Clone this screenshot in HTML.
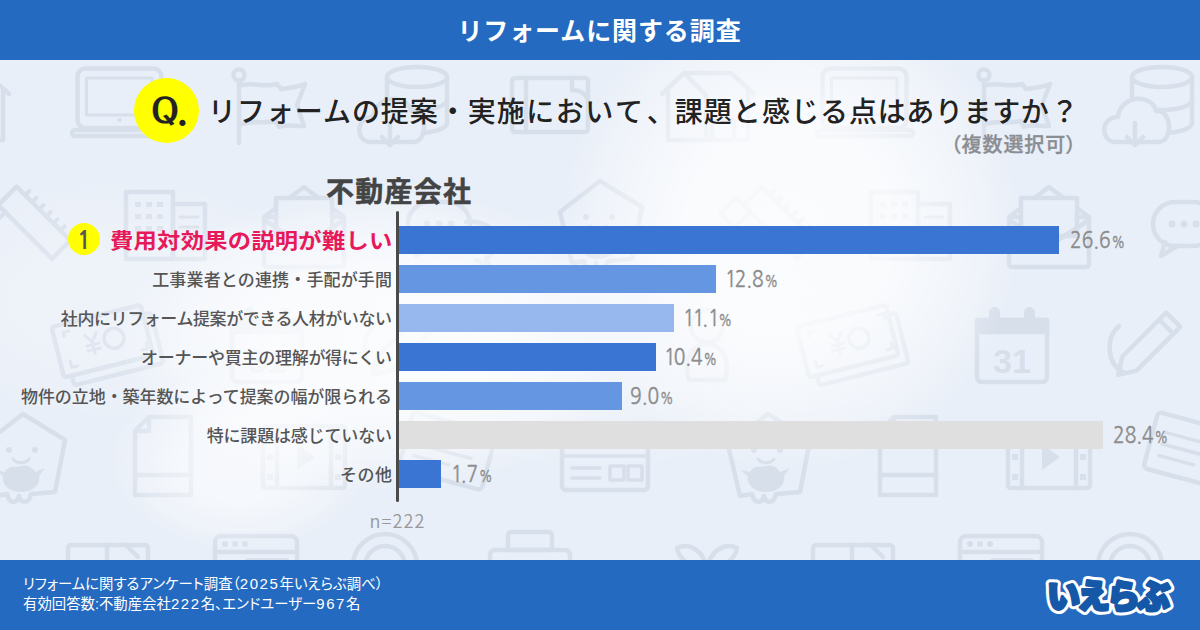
<!DOCTYPE html>
<html lang="ja">
<head>
<meta charset="utf-8">
<title>リフォームに関する調査</title>
<style>
*{margin:0;padding:0;box-sizing:border-box;}
html,body{width:1200px;height:630px;overflow:hidden;}
body{position:relative;font-family:"Liberation Sans","Noto Sans CJK JP",sans-serif;color:#222;background:#e9eff8;}
.abs{position:absolute;}
#bgicons{position:absolute;left:0;top:0;}
#glow{left:0;top:0;width:1200px;height:630px;
background:radial-gradient(ellipse 230px 240px at 790px 230px,rgba(255,255,255,0.80) 0%,rgba(255,255,255,0.75) 45%,rgba(255,255,255,0.35) 80%,rgba(255,255,255,0) 100%),
radial-gradient(ellipse 260px 150px at 380px 340px,rgba(255,255,255,0.80) 0%,rgba(255,255,255,0.75) 45%,rgba(255,255,255,0.35) 80%,rgba(255,255,255,0) 100%),
radial-gradient(ellipse 250px 130px at 600px 340px,rgba(255,255,255,0.30) 0%,rgba(255,255,255,0.28) 45%,rgba(255,255,255,0.13) 80%,rgba(255,255,255,0) 100%),
radial-gradient(ellipse 130px 90px at 240px 460px,rgba(255,255,255,0.60) 0%,rgba(255,255,255,0.56) 45%,rgba(255,255,255,0.26) 80%,rgba(255,255,255,0) 100%),
radial-gradient(ellipse 220px 120px at 120px 300px,rgba(255,255,255,0.25) 0%,rgba(255,255,255,0.23) 45%,rgba(255,255,255,0.11) 80%,rgba(255,255,255,0) 100%);}
#hdr{left:0;top:0;width:1200px;height:60px;background:#246ac0;color:#fff;font-family:"Noto Sans CJK JP",sans-serif;font-weight:700;font-size:25px;line-height:58px;text-align:center;letter-spacing:0.9px;text-indent:-1px;}
#qc{left:134px;top:78px;width:65px;height:65px;border-radius:50%;background:#ffff00;}
#qt{left:150px;top:88.5px;font-family:"IPAGothic",sans-serif;font-weight:400;font-size:37px;line-height:44px;color:#222;white-space:nowrap;}
#qq1{display:inline-block;transform:scaleX(1.62);transform-origin:0 0;-webkit-text-stroke:0.1px #222;}
#qdot{position:absolute;left:27px;top:0;font-family:"NanumGothic",sans-serif;font-weight:800;font-size:34px;}
#qq{left:208px;letter-spacing:0.95px;top:90px;font-family:"Noto Sans CJK JP",sans-serif;font-weight:500;font-size:28px;line-height:40px;color:#222;white-space:nowrap;}
#multi{right:123px;top:130px;font-family:"Noto Sans CJK JP",sans-serif;font-weight:500;font-size:20px;letter-spacing:0.9px;line-height:28px;color:#8a8d92;font-feature-settings:"palt";-webkit-text-stroke:0.3px #8a8d92;white-space:nowrap;}
#cat{left:326px;letter-spacing:1.25px;-webkit-text-stroke:0.5px #444;top:172px;font-family:"Noto Sans CJK JP",sans-serif;font-weight:700;font-size:28px;line-height:36px;color:#444;white-space:nowrap;}
#axis{left:396px;top:211px;width:3px;height:291px;background:#4a4a4a;border-radius:2px;}
.bar{position:absolute;left:399px;height:28px;}
.lbl{position:absolute;right:808px;font-family:"Noto Sans CJK JP",sans-serif;font-weight:500;font-size:17px;line-height:28px;color:#555;white-space:nowrap;text-align:right;}
.val{position:absolute;font-family:"NanumGothic","Noto Sans CJK JP",sans-serif;font-weight:400;font-size:24px;line-height:28px;color:#8c8c8c;white-space:nowrap;transform:scaleX(0.8);transform-origin:0 50%;margin-top:-1.25px;-webkit-text-stroke:0.45px #8c8c8c;}
.val small{font-size:15.5px;margin-left:1px;}
.val .o{letter-spacing:-2.5px;}
#rank{left:68px;top:223px;width:32px;height:32px;border-radius:50%;background:#ffff00;}
#rankn{left:68px;top:225px;width:32px;height:32px;color:#555;font-family:"NanumGothic",sans-serif;font-weight:700;font-size:24px;line-height:32px;text-align:center;}
#first{left:110px;top:222.5px;letter-spacing:0.25px;transform:scaleY(0.9);transform-origin:50% 60%;font-family:"Noto Sans CJK JP",sans-serif;font-weight:700;font-size:23.3px;line-height:32px;color:#e8195a;white-space:nowrap;}
#n{left:369.5px;top:508px;letter-spacing:1.1px;font-family:"Noto Sans CJK JP",sans-serif;font-weight:350;font-size:18px;line-height:24px;color:#999;}
#ftr{left:0;top:560px;width:1200px;height:70px;background:#246ac0;}
#ftxt{left:23px;top:574px;font-family:"Liberation Sans","Noto Sans CJK JP",sans-serif;font-feature-settings:"palt";font-weight:400;font-size:14.4px;line-height:20px;color:#fff;white-space:nowrap;}
#logo{position:absolute;left:1040px;top:567px;}
#ftxt .d{font-size:15px;letter-spacing:1.6px;}
</style>
</head>
<body>
<svg id="bgicons" width="1200" height="630" viewBox="0 0 1200 630">
<g fill="none" stroke="#d7dfeb" stroke-width="4.5" stroke-linecap="round" stroke-linejoin="round">
<g transform="translate(-83,73)"><path d="M0,21 L22,0 H69 L92,21 M6,17 V67 H86 V17 M22,0 L44,22 V67 M50,67 V47 H72 V67"/></g>
<g transform="translate(662,73)"><path d="M0,21 L22,0 H69 L92,21 M6,17 V67 H86 V17 M22,0 L44,22 V67 M50,67 V47 H72 V67"/></g>
<g transform="translate(70,66)"><rect x="7.5" y="2.5" width="84" height="59.5" rx="8"/><rect x="16.5" y="12" width="65.5" height="37" stroke-width="3"/><circle cx="49.5" cy="54" r="2.2" fill="#d7dfeb" stroke="none"/><rect x="2" y="64" width="96" height="6" rx="3"/></g>
<g transform="translate(815,66)"><rect x="7.5" y="2.5" width="84" height="59.5" rx="8"/><rect x="16.5" y="12" width="65.5" height="37" stroke-width="3"/><circle cx="49.5" cy="54" r="2.2" fill="#d7dfeb" stroke="none"/><rect x="2" y="64" width="96" height="6" rx="3"/></g>
<g transform="translate(239,75)"><circle cx="0" cy="0" r="5.5"/><path d="M0,6 V68"/><path d="M3,10 C15,7 25,13 38,9 L42,14 C52,12 58,13 66,9 L58,30 L65,51 C55,51 48,49 40,52 L37,46 C25,49 15,45 3,49"/></g>
<g transform="translate(984,75)"><circle cx="0" cy="0" r="5.5"/><path d="M0,6 V68"/><path d="M3,10 C15,7 25,13 38,9 L42,14 C52,12 58,13 66,9 L58,30 L65,51 C55,51 48,49 40,52 L37,46 C25,49 15,45 3,49"/></g>
<g transform="translate(385,65)"><path d="M2,12 V58 A30,10 0 0 0 62,58 V12"/><ellipse cx="32" cy="12" rx="30" ry="10"/><path d="M2,35 A30,10 0 0 0 62,35"/><path d="M-14,77 C-30,77 -30,52 -12,52 C-10,30 22,28 26,46 C42,44 44,77 28,77 Z" fill="#e9eff8"/><path d="M5,58 V80 M-3,72 L5,80 L13,72"/></g>
<g transform="translate(1130,65)"><path d="M2,12 V58 A30,10 0 0 0 62,58 V12"/><ellipse cx="32" cy="12" rx="30" ry="10"/><path d="M2,35 A30,10 0 0 0 62,35"/><path d="M-14,77 C-30,77 -30,52 -12,52 C-10,30 22,28 26,46 C42,44 44,77 28,77 Z" fill="#e9eff8"/><path d="M5,58 V80 M-3,72 L5,80 L13,72"/></g>
<g transform="translate(510,76)"><rect x="2" y="2" width="76" height="54" rx="3"/><path d="M16,2 V56 M62,2 V14 C70,14 76,18 78,24"/></g>
<g transform="translate(-5,182)"><g transform="rotate(45 40 40)"><path d="M2,28 H78 V54 H2 Z"/><path d="M14,28 v-6 M24,28 v-6 M34,28 v-6 M44,28 v-6 M54,28 v-6 M64,28 v-6" stroke-width="4"/></g><g transform="rotate(45 40 40)"><path d="M-8,54 h20 v22 h-20 Z"/></g></g>
<g transform="translate(740,182)"><g transform="rotate(45 40 40)"><path d="M2,28 H78 V54 H2 Z"/><path d="M14,28 v-6 M24,28 v-6 M34,28 v-6 M44,28 v-6 M54,28 v-6 M64,28 v-6" stroke-width="4"/></g><g transform="rotate(45 40 40)"><path d="M-8,54 h20 v22 h-20 Z"/></g></g>
<g transform="translate(124,190)"><rect x="2" y="2" width="47" height="67"/><rect x="49" y="14" width="32" height="55"/><g fill="#d7dfeb" stroke="none"><rect x="11" y="12" width="6" height="5"/><rect x="22" y="12" width="6" height="5"/><rect x="33" y="12" width="6" height="5"/><rect x="11" y="24" width="6" height="5"/><rect x="22" y="24" width="6" height="5"/><rect x="33" y="24" width="6" height="5"/><rect x="11" y="36" width="6" height="5"/><rect x="22" y="36" width="6" height="5"/><rect x="33" y="36" width="6" height="5"/></g><path d="M56,27 H74 M56,37 H74" stroke-width="3"/></g>
<g transform="translate(869,190)"><rect x="2" y="2" width="47" height="67"/><rect x="49" y="14" width="32" height="55"/><g fill="#d7dfeb" stroke="none"><rect x="11" y="12" width="6" height="5"/><rect x="22" y="12" width="6" height="5"/><rect x="33" y="12" width="6" height="5"/><rect x="11" y="24" width="6" height="5"/><rect x="22" y="24" width="6" height="5"/><rect x="33" y="24" width="6" height="5"/><rect x="11" y="36" width="6" height="5"/><rect x="22" y="36" width="6" height="5"/><rect x="33" y="36" width="6" height="5"/></g><path d="M56,27 H74 M56,37 H74" stroke-width="3"/></g>
<g transform="translate(260,184)"><path d="M4,33 L44,3 L84,33"/><rect x="4" y="33" width="80" height="50" rx="3"/><rect x="16" y="14" width="56" height="38" fill="#e9eff8"/><path d="M4,36 L44,62 L84,36"/></g>
<g transform="translate(1005,184)"><path d="M4,33 L44,3 L84,33"/><rect x="4" y="33" width="80" height="50" rx="3"/><rect x="16" y="14" width="56" height="38" fill="#e9eff8"/><path d="M4,36 L44,62 L84,36"/></g>
<g transform="translate(406,200)"><path d="M60,22 C80,20 92,30 90,44 C89,52 84,56 80,58 L84,66 L70,60"/><rect x="2" y="2" width="62" height="44" rx="22"/><path d="M14,42 L10,56 L26,46"/><g fill="#d7dfeb" stroke="none"><circle cx="21" cy="24" r="3.5"/><circle cx="33" cy="24" r="3.5"/><circle cx="45" cy="24" r="3.5"/></g></g>
<g transform="translate(1151,200)"><path d="M60,22 C80,20 92,30 90,44 C89,52 84,56 80,58 L84,66 L70,60"/><rect x="2" y="2" width="62" height="44" rx="22"/><path d="M14,42 L10,56 L26,46"/><g fill="#d7dfeb" stroke="none"><circle cx="21" cy="24" r="3.5"/><circle cx="33" cy="24" r="3.5"/><circle cx="45" cy="24" r="3.5"/></g></g>
<g transform="translate(552,177)"><path d="M8,35 L48,4 L90,30 L80,82 L56,84 C54,94 46,94 44,86 C42,94 34,94 32,84 L20,86 Z"/><g fill="#d7dfeb" stroke="none"><circle cx="34" cy="40" r="3"/><circle cx="60" cy="40" r="3"/><path d="M30,62 C34,54 42,58 46,56 C52,54 58,58 60,62 L70,58 L64,66 C66,74 58,82 46,82 C34,82 26,74 28,66 L20,60 Z"/></g><path d="M38,49 C42,54 50,54 54,49" stroke-width="3"/></g>
<g transform="translate(677,308)"><circle cx="30" cy="18" r="16"/><path d="M12,72 C6,50 16,36 30,36 C44,36 54,50 48,72 Z"/><path d="M30,44 V58" stroke-width="3"/></g>
<g transform="translate(58,312)"><g transform="rotate(-14 50 35)"><rect x="8" y="12" width="92" height="52" rx="3"/><rect x="0" y="2" width="92" height="52" rx="3" fill="#e9eff8"/><path d="M10,14 v-4 h6 M82,10 h6 v6 M88,40 v6 h-6 M16,46 h-6 v-6" stroke-width="3"/><circle cx="58" cy="28" r="10" stroke-width="3.5"/><path d="M30,18 L36,26 L42,18 M36,26 V38 M30,29 H42 M30,34 H42" stroke-width="3"/></g></g>
<g transform="translate(803,312)"><g transform="rotate(-14 50 35)"><rect x="8" y="12" width="92" height="52" rx="3"/><rect x="0" y="2" width="92" height="52" rx="3" fill="#e9eff8"/><path d="M10,14 v-4 h6 M82,10 h6 v6 M88,40 v6 h-6 M16,46 h-6 v-6" stroke-width="3"/><circle cx="58" cy="28" r="10" stroke-width="3.5"/><path d="M30,18 L36,26 L42,18 M36,26 V38 M30,29 H42 M30,34 H42" stroke-width="3"/></g></g>
<g transform="translate(230,306)"><rect x="2" y="14" width="70" height="62" rx="5"/><rect x="2" y="14" width="70" height="12" fill="#d7dfeb"/><g fill="#d7dfeb" stroke="none"><rect x="14" y="1" width="11" height="16" rx="5.5"/><rect x="49" y="1" width="11" height="16" rx="5.5"/></g><text x="37" y="67" font-family="Liberation Sans, sans-serif" font-weight="700" font-size="34" text-anchor="middle" fill="#d7dfeb" stroke="none">31</text></g>
<g transform="translate(975,306)"><rect x="2" y="14" width="70" height="62" rx="5"/><rect x="2" y="14" width="70" height="12" fill="#d7dfeb"/><g fill="#d7dfeb" stroke="none"><rect x="14" y="1" width="11" height="16" rx="5.5"/><rect x="49" y="1" width="11" height="16" rx="5.5"/></g><text x="37" y="67" font-family="Liberation Sans, sans-serif" font-weight="700" font-size="34" text-anchor="middle" fill="#d7dfeb" stroke="none">31</text></g>
<g transform="translate(360,316)"><g transform="rotate(45 40 32)"><path d="M30,-8 h20 v62 l-10,16 l-10,-16 Z"/><path d="M30,2 h20"/></g><path d="M14,10 C0,22 2,48 18,56"/></g>
<g transform="translate(1105,316)"><g transform="rotate(45 40 32)"><path d="M30,-8 h20 v62 l-10,16 l-10,-16 Z"/><path d="M30,2 h20"/></g><path d="M14,10 C0,22 2,48 18,56"/></g>
<g transform="translate(-25,410)"><path d="M8,35 L48,4 L90,30 L80,82 L56,84 C54,94 46,94 44,86 C42,94 34,94 32,84 L20,86 Z"/><g fill="#d7dfeb" stroke="none"><circle cx="34" cy="40" r="3"/><circle cx="60" cy="40" r="3"/><path d="M30,62 C34,54 42,58 46,56 C52,54 58,58 60,62 L70,58 L64,66 C66,74 58,82 46,82 C34,82 26,74 28,66 L20,60 Z"/></g><path d="M38,49 C42,54 50,54 54,49" stroke-width="3"/></g>
<g transform="translate(720,410)"><path d="M8,35 L48,4 L90,30 L80,82 L56,84 C54,94 46,94 44,86 C42,94 34,94 32,84 L20,86 Z"/><g fill="#d7dfeb" stroke="none"><circle cx="34" cy="40" r="3"/><circle cx="60" cy="40" r="3"/><path d="M30,62 C34,54 42,58 46,56 C52,54 58,58 60,62 L70,58 L64,66 C66,74 58,82 46,82 C34,82 26,74 28,66 L20,60 Z"/></g><path d="M38,49 C42,54 50,54 54,49" stroke-width="3"/></g>
<g transform="translate(133,415)"><path d="M16,2 H58 V80 H2 V16 Z M16,2 V16 H2"/><path d="M2,60 H58" /><path d="M20,60 H40" stroke-width="3"/></g>
<g transform="translate(878,415)"><path d="M16,2 H58 V80 H2 V16 Z M16,2 V16 H2"/><path d="M2,60 H58" /><path d="M20,60 H40" stroke-width="3"/></g>
<g transform="translate(261,424)"><rect x="2" y="2" width="82" height="62" rx="3"/><path d="M16,2 V64 M70,2 V64"/><g fill="#d7dfeb" stroke="none"><rect x="6" y="10" width="6" height="6"/><rect x="6" y="30" width="6" height="6"/><rect x="6" y="50" width="6" height="6"/><rect x="74" y="10" width="6" height="6"/><rect x="74" y="30" width="6" height="6"/><rect x="74" y="50" width="6" height="6"/><path d="M36,20 L54,33 L36,46 Z"/></g></g>
<g transform="translate(1006,424)"><rect x="2" y="2" width="82" height="62" rx="3"/><path d="M16,2 V64 M70,2 V64"/><g fill="#d7dfeb" stroke="none"><rect x="6" y="10" width="6" height="6"/><rect x="6" y="30" width="6" height="6"/><rect x="6" y="50" width="6" height="6"/><rect x="74" y="10" width="6" height="6"/><rect x="74" y="30" width="6" height="6"/><rect x="74" y="50" width="6" height="6"/><path d="M36,20 L54,33 L36,46 Z"/></g></g>
<g transform="translate(402,412)"><g transform="rotate(15 45 40)"><rect x="2" y="10" width="86" height="58" rx="4"/><path d="M14,28 H60 M14,40 H70 M14,52 H50" stroke-width="3.5"/></g></g>
<g transform="translate(1147,412)"><g transform="rotate(15 45 40)"><rect x="2" y="10" width="86" height="58" rx="4"/><path d="M14,28 H60 M14,40 H70 M14,52 H50" stroke-width="3.5"/></g></g>
<g transform="translate(560,440)"><rect x="2" y="2" width="86" height="48" rx="4"/><path d="M2,16 H88 M12,28 H40 M12,38 H40" stroke-width="3.5"/><rect x="50" y="26" width="14" height="14" stroke-width="3.5"/><rect x="68" y="26" width="14" height="14" stroke-width="3.5"/></g>
<g transform="translate(66,543)"><rect x="2" y="2" width="80" height="62" rx="3"/><path d="M41,2 V64 M60,2 L72,14"/></g>
<g transform="translate(811,543)"><rect x="2" y="2" width="80" height="62" rx="3"/><path d="M41,2 V64 M60,2 L72,14"/></g>
<g transform="translate(213,534)"><rect x="2" y="2" width="82" height="62" rx="6"/><path d="M2,18 H84"/><g fill="#d7dfeb" stroke="none"><circle cx="12" cy="10" r="3"/><circle cx="22" cy="10" r="3"/><circle cx="32" cy="10" r="3"/></g><rect x="34" y="26" width="40" height="30" stroke-width="3.5"/></g>
<g transform="translate(958,534)"><rect x="2" y="2" width="82" height="62" rx="6"/><path d="M2,18 H84"/><g fill="#d7dfeb" stroke="none"><circle cx="12" cy="10" r="3"/><circle cx="22" cy="10" r="3"/><circle cx="32" cy="10" r="3"/></g><rect x="34" y="26" width="40" height="30" stroke-width="3.5"/></g>
<g transform="translate(351,530)"><circle cx="34" cy="36" r="32"/><circle cx="34" cy="36" r="20"/><circle cx="34" cy="36" r="6" fill="#d7dfeb" stroke="none"/></g>
<g transform="translate(1096,530)"><circle cx="34" cy="36" r="32"/><circle cx="34" cy="36" r="20"/><circle cx="34" cy="36" r="6" fill="#d7dfeb" stroke="none"/></g>
<g transform="translate(488,530)"><rect x="20" y="2" width="44" height="18" rx="3"/><rect x="2" y="20" width="80" height="40" rx="5"/><rect x="20" y="44" width="44" height="26" fill="#e9eff8"/></g>
<g transform="translate(675,528)"><path d="M32,40 C20,40 4,34 2,20 C14,14 28,22 32,40 C36,22 50,14 62,20 C60,34 44,40 32,40 Z M32,40 V70"/></g>
</g></svg>
<div class="abs" id="glow"></div>
<div class="abs" id="hdr">リフォームに関する調査</div>

<div class="abs" id="qc"></div>
<div class="abs" id="qt"><span id="qq1">Q</span><span id="qdot">.</span></div>
<div class="abs" id="qq">リフォームの提案・実<span style="letter-spacing:1.55px">施におい</span><span style="letter-spacing:3.95px">て</span><span style="letter-spacing:-0.05px">、</span><span style="letter-spacing:1.04px">課題と感じる</span><span style="letter-spacing:0.62px">点はあります</span><span style="letter-spacing:1.7px">か</span>？</div>
<div class="abs" id="multi">（複数選択可）</div>

<div class="abs" id="cat">不動産会社</div>

<div class="abs" id="rank"></div>
<div class="abs" id="rankn">1</div>
<div class="abs" id="first">費用対効果の説明が難しい</div>
<div class="lbl" style="top:265px;letter-spacing:0.15px;margin-right:-0.15px">工事業者との連携・手配が手間</div>
<div class="lbl" style="top:304px;letter-spacing:-0.42px;margin-right:0.42px">社内にリフォーム提案ができる人材がいない</div>
<div class="lbl" style="top:343px;letter-spacing:-0.26px;margin-right:0.26px">オーナーや買主の理解が得にくい</div>
<div class="lbl" style="top:382px;letter-spacing:-0.08px;margin-right:0.08px">物件の立地・築年数によって提案の幅が限られる</div>
<div class="lbl" style="top:421px;letter-spacing:-0.17px;margin-right:0.17px">特に課題は感じていない</div>
<div class="lbl" style="top:460px;letter-spacing:0.50px;margin-right:-0.50px">その他</div>

<div class="bar" style="top:226px;width:660px;background:#3a75d3"></div>
<div class="bar" style="top:265px;width:317px;background:#6596e1"></div>
<div class="bar" style="top:304px;width:275px;background:#96b8ee"></div>
<div class="bar" style="top:343px;width:257px;background:#3a75d3"></div>
<div class="bar" style="top:382px;width:223px;background:#6596e1"></div>
<div class="bar" style="top:421px;width:704px;background:#dfdfdf"></div>
<div class="bar" style="top:460px;width:42px;background:#3a75d3"></div>


<div class="val" style="left:1069.7px;top:226px">26.6<small>%</small></div>
<div class="val" style="left:724.6px;top:265px"><span class="o">1</span>2.8<small>%</small></div>
<div class="val" style="left:682.85px;top:304px"><span class="o">1</span><span class="o">1</span>.<span class="o">1</span><small>%</small></div>
<div class="val" style="left:664.1px;top:343px"><span class="o">1</span>0.4<small>%</small></div>
<div class="val" style="left:629.7px;top:382px">9.0<small>%</small></div>
<div class="val" style="left:1113.2px;top:421px">28.4<small>%</small></div>
<div class="val" style="left:450.6px;top:460px"><span class="o">1</span>.7<small>%</small></div>

<div class="abs" id="axis"></div>
<div class="abs" id="n">n=222</div>

<div class="abs" id="ftr"></div>
<div class="abs" id="ftxt">リフォームに関するアンケート調査（<span class="d">2025</span>年いえらぶ調べ）<br>有効回答数:不動産会社<span class="d">222</span>名、エンドユーザー<span class="d">967</span>名</div>
<svg id="logo" width="150" height="56" viewBox="0 0 150 56">
<g font-family="Noto Sans CJK JP, sans-serif" font-weight="900" font-size="33" letter-spacing="-3">
<text x="7" y="41" fill="#ffffff" stroke="#ffffff" stroke-width="9" stroke-linejoin="round">いえらぶ</text>
<text x="7" y="41" fill="#1558a8" stroke="#1558a8" stroke-width="3" stroke-linejoin="round">いえらぶ</text>
</g>
</svg>
</body>
</html>
